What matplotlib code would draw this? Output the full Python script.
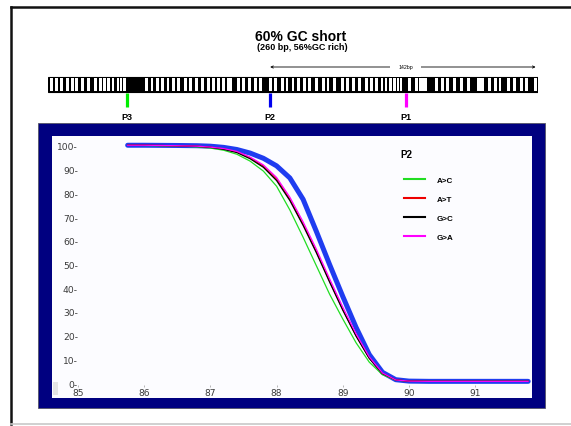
import matplotlib
matplotlib.use('Agg')
import matplotlib.pyplot as plt
from matplotlib.patches import Rectangle
from matplotlib.lines import Line2D

#### DATA ########################################
TITLE = '60% GC short'
SUBTITLE = '(260 bp, 56%GC rich)'
SEQ_LEN = 260
# white stripes in the barcode (start bp, width bp)
STRIPES = [(1.1, 1.5), (3.7, 1.5), (6.4, 1.5), (9.4, 1.5), (12.1, 1.5), (14.3, 1.5), (17.4, 1.5),
           (20.9, 1.5), (24.4, 1.5), (27.1, 1.5), (29.4, 1.2), (31.5, 1.2), (33.8, 1.5), (36.5, 1.2),
           (38.2, 1.2), (40.0, 1.2), (51.5, 1.5), (54.5, 1.5), (57.2, 1.5), (59.9, 1.5), (63.0, 1.5),
           (66.0, 1.5), (68.7, 1.5), (72.2, 1.5), (74.9, 1.5), (78.1, 1.5), (81.3, 1.5), (84.3, 1.5),
           (87.0, 1.5), (89.9, 1.5), (92.6, 1.5), (94.9, 3.0), (100.6, 1.5), (103.2, 1.5),
           (106.4, 1.5), (109.4, 1.5), (112.1, 1.5), (117.4, 1.5), (120.0, 1.5), (123.6, 1.5),
           (126.2, 1.5), (129.4, 1.5), (132.4, 1.5), (135.3, 1.5), (138.3, 1.5), (141.8, 1.5),
           (145.4, 1.5), (148.0, 1.5), (151.6, 1.5), (155.5, 1.5), (158.3, 1.5), (161.3, 1.5),
           (164.8, 1.5), (168.4, 1.5), (171.0, 1.5), (173.7, 1.5), (176.7, 1.2), (179.0, 1.2),
           (181.3, 1.2), (183.4, 1.2), (185.2, 1.2), (187.0, 1.2), (191.4, 1.5), (194.9, 1.5),
           (197.3, 4), (205.5, 1.5), (208.6, 1.5), (211.4, 1.5), (215.3, 1.5), (218.8, 1.5),
           (222.4, 1.5), (227.7, 4), (233.9, 1.5), (236.9, 1.5), (239.3, 1.5), (243.7, 1.5),
           (247.2, 1.5), (250.8, 1.5), (253.4, 1.5), (258.3, 1.5)]
PROBES = ['P3', 'P2', 'P1']
PROBE_POS = [42, 118, 190]
PROBE_COLORS = ['#00ee00', '#0000ee', '#ff00ff']
AMPLICON = '142bp'

TEMP = [85.75, 86.0, 86.5, 86.8, 87.0, 87.2, 87.4, 87.6, 87.8, 88.0, 88.2, 88.4,
        88.6, 88.8, 89.0, 89.2, 89.4, 89.6, 89.8, 90.0, 90.3, 90.8, 91.3, 91.8]
WT = [100.3, 100.3, 100.2, 100.1, 99.9, 99.4, 98.5, 97.0, 94.8, 91.6, 86.5, 77.5,
      64.0, 50.0, 36.5, 23.5, 12.0, 4.5, 1.4, 0.8, 0.7, 0.7, 0.7, 0.7]
A_C = [100.3, 100.2, 100.0, 99.6, 99.1, 98.2, 96.5, 93.6, 89.4, 83.0, 73.0, 61.5,
       49.5, 37.5, 27.0, 17.0, 8.8, 3.5, 1.2, 0.8, 0.7, 0.7, 0.7, 0.7]
A_T = [100.3, 100.3, 100.1, 99.9, 99.5, 98.8, 97.5, 95.0, 91.5, 86.0, 77.5, 67.0,
       55.5, 43.0, 31.0, 20.0, 10.5, 4.0, 1.3, 0.8, 0.7, 0.7, 0.7, 0.7]
G_C = [100.3, 100.3, 100.1, 99.8, 99.4, 98.6, 97.2, 94.6, 91.0, 85.4, 77.0, 66.5,
       55.0, 42.6, 30.7, 19.8, 10.4, 4.0, 1.3, 0.8, 0.7, 0.7, 0.7, 0.7]
G_A = [100.3, 100.3, 100.1, 99.9, 99.5, 98.9, 97.7, 95.3, 92.0, 86.7, 78.4, 68.0,
       56.5, 44.0, 32.0, 20.8, 11.0, 4.2, 1.3, 0.8, 0.7, 0.7, 0.7, 0.7]
MUTANTS = {'A>C': (A_C, '#22dd22'), 'A>T': (A_T, '#ee0000'),
           'G>C': (G_C, '#000000'), 'G>A': (G_A, '#ff00ff')}
LEGEND_TITLE = 'P2'
XTICKS = [85, 86, 87, 88, 89, 90, 91]
YTICKS = [0, 10, 20, 30, 40, 50, 60, 70, 80, 90, 100]

#### LAYOUT HELPERS ##############################
W, H = 571, 427
plt.rcParams['font.family'] = ['Liberation Sans', 'DejaVu Sans']


def fx(px):
    return px / W


def fy(py):
    return 1 - py / H


def box(x0, y0, x1, y1):
    # pixel box -> [left, bottom, width, height] in figure fraction
    return [fx(x0), fy(y1), (x1 - x0) / W, (y1 - y0) / H]


fig = plt.figure(figsize=(W / 100, H / 100), dpi=100)

# slide frame
fig.add_artist(Line2D([fx(11), fx(11)], [fy(8), fy(425)], color='#111111', lw=1.8))
fig.add_artist(Line2D([fx(11), fx(571)], [fy(8), fy(8)], color='#111111', lw=1.8))
fig.add_artist(Line2D([fx(11), fx(571)], [fy(425), fy(425)], color='#c8c8c8', lw=1.2))

#### SEQUENCE DIAGRAM ############################
fig.text(fx(301), fy(37), TITLE, ha='center', va='center', fontsize=10, fontweight='bold')
fig.text(fx(302), fy(47.5), SUBTITLE, ha='center', va='center', fontsize=6.5, fontweight='bold')

dg = fig.add_axes(box(48, 55, 537.5, 125))
dg.set_xlim(0, SEQ_LEN)
dg.set_ylim(125, 55)
dg.axis('off')
dg.add_patch(Rectangle((0, 77.6), SEQ_LEN, 15.4, facecolor='black', edgecolor='black', lw=0.8))
dg.broken_barh(STRIPES, (79, 12.6), facecolors='white')
for name, pos, col in zip(PROBES, PROBE_POS, PROBE_COLORS):
    dg.vlines(pos, 93.5, 108, color=col, lw=2.3)
    dg.text(pos, 118, name, ha='center', va='center', fontsize=6.5, fontweight='bold')
dg.annotate('', xy=(PROBE_POS[1], 68), xytext=(SEQ_LEN - 1, 68),
            arrowprops=dict(arrowstyle='<->', lw=0.6, color='black', shrinkA=0, shrinkB=0,
                            mutation_scale=4))
dg.text(190, 67, AMPLICON, ha='center', va='center', fontsize=3.8,
        bbox=dict(facecolor='white', edgecolor='none', pad=6))

#### MELT CURVE PANEL ############################
fig.add_artist(Rectangle((fx(38), fy(409)), (545 - 38) / W, (409 - 124) / H,
                         transform=fig.transFigure, facecolor='#000080',
                         edgecolor='#555566', lw=0.6, zorder=-5))
fig.add_artist(Rectangle((fx(52), fy(399)), (532 - 52) / W, (399 - 137) / H,
                         transform=fig.transFigure, facecolor='#fcfcff', edgecolor='none',
                         zorder=-4))
fig.add_artist(Rectangle((fx(53), fy(396)), 5 / W, 13 / H,
                         transform=fig.transFigure, facecolor='#e4e4e4', edgecolor='none',
                         zorder=-3))

ax = fig.add_axes(box(78, 137, 532, 386))
ax.set_facecolor('none')
ax.set_xlim(85, 85 + 454 / 66.2)
ax.set_ylim(-0.84, 104.2)
for s in ax.spines.values():
    s.set_visible(False)

ax.plot(TEMP, WT, color='#1f3cf0', lw=3.6, solid_capstyle='round', zorder=2)
for name, (vals, col) in MUTANTS.items():
    ax.plot(TEMP, vals, color=col, lw=0.9, label=name, zorder=3)

ax.set_xticks(XTICKS)
ax.set_xticklabels([str(t) for t in XTICKS])
ax.set_yticks(YTICKS)
ax.set_yticklabels(['%d-' % t for t in YTICKS])
for lab in ax.get_xticklabels() + ax.get_yticklabels():
    lab.set_family('DejaVu Sans')
ax.tick_params(axis='y', length=0, pad=0, labelsize=6.6, labelcolor='#3a3a3a')
ax.tick_params(axis='x', length=1.5, width=0.5, color='#999999', pad=0.5,
               labelsize=6.6, labelcolor='#3a3a3a')

fig.text(fx(400), fy(155), LEGEND_TITLE, ha='left', va='center', fontsize=7, fontweight='bold')
leg = ax.legend(loc='upper left', bbox_to_anchor=(fx(400), fy(173.5)),
                bbox_transform=fig.transFigure, frameon=False,
                prop={'size': 5.8, 'weight': 'bold'}, handlelength=2.6,
                handletextpad=1.5, labelspacing=1.4, borderpad=0)
for line in leg.get_lines():
    line.set_linewidth(1.5)

fig.savefig('out.png', dpi=100)
